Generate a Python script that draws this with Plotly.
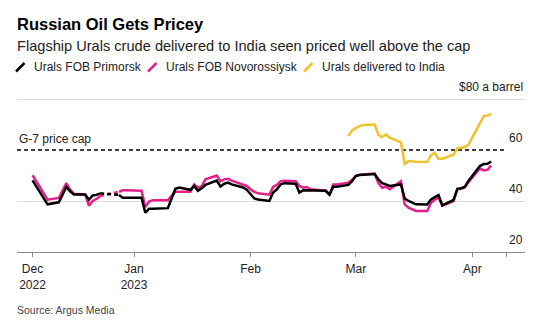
import plotly.graph_objects as go

# ---------------- data ----------------
urals_dates = [
    "2022-12-05", "2022-12-09", "2022-12-12", "2022-12-14", "2022-12-15", "2022-12-16",
    "2022-12-19", "2022-12-20", "2022-12-21", "2022-12-22", "2022-12-23",
    "2022-12-28", "2022-12-29", "2022-12-30",
    "2023-01-02", "2023-01-03", "2023-01-04", "2023-01-05", "2023-01-06",
    "2023-01-09", "2023-01-10", "2023-01-11", "2023-01-12", "2023-01-13",
    "2023-01-16", "2023-01-17", "2023-01-18", "2023-01-19", "2023-01-20",
    "2023-01-23", "2023-01-24", "2023-01-25", "2023-01-26", "2023-01-27",
    "2023-01-30", "2023-01-31", "2023-02-01", "2023-02-02", "2023-02-03",
    "2023-02-06", "2023-02-07", "2023-02-08", "2023-02-09", "2023-02-10",
    "2023-02-13", "2023-02-14", "2023-02-15", "2023-02-16", "2023-02-17",
    "2023-02-20", "2023-02-21", "2023-02-22", "2023-02-23", "2023-02-24",
    "2023-02-27", "2023-02-28", "2023-03-01", "2023-03-02", "2023-03-03",
    "2023-03-06", "2023-03-07", "2023-03-08", "2023-03-09", "2023-03-10",
    "2023-03-13", "2023-03-14", "2023-03-15", "2023-03-16", "2023-03-17",
    "2023-03-20", "2023-03-21", "2023-03-22", "2023-03-23", "2023-03-24",
    "2023-03-27", "2023-03-28", "2023-03-29", "2023-03-30", "2023-03-31",
    "2023-04-03", "2023-04-04", "2023-04-05", "2023-04-06",
]
primorsk = [
    48.1, 38.7, 39.5, 45.5, 43.8, 42.6,
    42.6, 40.5, 42.2, 42.4, 43.0,
    42.4, 41.3, 41.3,
    41.3, 41.3, 35.4, 37.0, 37.0,
    37.0, 37.2, 41.0, 44.8, 45.3,
    44.4, 45.9, 44.0, 45.0, 46.3,
    48.0, 45.7, 46.8, 47.2, 46.5,
    45.3, 44.4, 42.5, 41.0, 40.6,
    40.0, 43.3, 44.6, 46.5, 47.0,
    46.8, 43.3, 44.2, 44.2, 44.2,
    44.2, 44.0, 42.4, 45.6, 45.6,
    46.3, 47.8, 49.8, 50.2, 50.3,
    50.6, 48.5, 47.0, 46.5, 45.9,
    46.5, 41.0, 40.0, 39.3, 38.7,
    38.6, 40.6, 41.5, 42.3, 38.3,
    40.4, 44.8, 45.0, 45.5, 48.0,
    53.7, 54.5, 54.6, 55.5,
]
novorossiysk = [
    50.1, 40.5, 41.2, 47.0, 44.5, 42.8,
    42.6, 38.2, 40.0, 40.8, 42.0,
    43.6, 44.2, 44.2,
    44.2, 44.0, 37.6, 39.8, 40.3,
    40.3, 40.3, 42.0, 43.6, 43.6,
    43.6, 46.5, 45.2, 45.8, 48.5,
    50.0, 47.8, 48.5, 48.7, 48.0,
    46.6, 45.9, 44.6, 43.6, 43.0,
    42.5, 45.5, 46.3, 47.8, 47.9,
    47.8, 45.9, 45.2, 45.5, 44.6,
    44.3, 44.0, 42.6, 46.5, 46.5,
    47.2, 48.3, 49.9, 50.3, 50.4,
    50.8, 47.0, 45.2, 45.6, 44.6,
    47.8, 38.7, 37.4, 36.6, 36.1,
    36.1, 39.3, 40.5, 41.4, 38.2,
    40.0, 44.6, 44.8, 45.5, 47.5,
    52.8, 52.0, 52.2, 53.9,
]
india_dates = [
    "2023-02-27", "2023-02-28", "2023-03-01", "2023-03-02", "2023-03-03",
    "2023-03-06", "2023-03-07", "2023-03-08", "2023-03-09", "2023-03-10",
    "2023-03-13", "2023-03-14", "2023-03-15", "2023-03-16", "2023-03-17",
    "2023-03-20", "2023-03-21", "2023-03-22", "2023-03-23", "2023-03-24",
    "2023-03-27", "2023-03-28", "2023-03-29", "2023-03-30", "2023-03-31",
    "2023-04-03", "2023-04-04", "2023-04-05", "2023-04-06",
]
india = [
    65.5, 67.7, 68.6, 69.4, 69.8,
    70.0, 66.0, 65.1, 66.1, 64.8,
    63.0, 54.5, 55.7, 55.5, 55.4,
    55.3, 58.0, 58.9, 56.5, 56.6,
    58.2, 60.6, 60.8, 61.2, 62.2,
    70.5, 73.2, 73.6, 74.0,
]
gap_start, gap_end = "2022-12-23", "2022-12-28"   # holiday gap, drawn dashed
price_cap = 60
cap_end = "2023-04-10"
x_tickvals = ["2022-12-05", "2023-01-01", "2023-02-01", "2023-03-01", "2023-04-01", "2023-04-10"]
x_ticktext = ["Dec<br>2022", "Jan<br>2023", "Feb", "Mar", "Apr", ""]
y_labels = [20, 40, 60, 80]
y_label_text = ["20", "40", "60", "$80 a barrel"]
y_grid = [40, 80]
x_range = ["2022-11-30 21:00", "2023-04-15 00:00"]
y_range = [20, 85.5]

series = [
    ("Urals FOB Novorossiysk", novorossiysk, "#e5208a"),
    ("Urals FOB Primorsk", primorsk, "#000000"),
]
INDIA_COLOR = "#f2c12e"

# ---------------- layout geometry ----------------
W, H = 550, 325
L, R, T, B = 17, 25, 85, 73
PW, PH = W - L - R, H - T - B
FONT = "Liberation Sans, Arial, sans-serif"


def px(xp):
    return (xp - L) / PW


def py(yp):
    return (H - B - yp) / PH


fig = go.Figure()

gi0 = urals_dates.index(gap_start)
gi1 = urals_dates.index(gap_end)
for name, vals, col in series:
    xs = urals_dates[: gi0 + 1] + [None] + urals_dates[gi1:]
    ys = vals[: gi0 + 1] + [None] + vals[gi1:]
    fig.add_trace(go.Scatter(x=xs, y=ys, mode="lines", name=name, connectgaps=False,
                             line=dict(color=col, width=2.5), showlegend=False))
    fig.add_trace(go.Scatter(x=[urals_dates[gi0], urals_dates[gi1]], y=[vals[gi0], vals[gi1]],
                             mode="lines", line=dict(color=col, width=2.5, dash="4px,3px"),
                             showlegend=False))

fig.add_trace(go.Scatter(x=india_dates, y=india, mode="lines", name="Urals delivered to India",
                         line=dict(color=INDIA_COLOR, width=2.5), showlegend=False))

# G-7 cap dashed line
fig.add_shape(type="line", xref="x", yref="y", x0=x_range[0], x1=cap_end,
              y0=price_cap, y1=price_cap, line=dict(color="#000", width=1.3, dash="4px,3px"),
              layer="below")

ann = []
# y labels
for v, t in zip(y_labels, y_label_text):
    ann.append(dict(xref="paper", yref="y", x=1, y=v, text=t, showarrow=False,
                    xanchor="right", yanchor="bottom", yshift=3,
                    font=dict(size=12, color="#222", family=FONT)))
ann.append(dict(xref="paper", yref="y", x=0, y=price_cap, text="G-7 price cap", showarrow=False,
                xanchor="left", yanchor="bottom", yshift=2,
                font=dict(size=12, color="#222", family=FONT)))
# title / subtitle / source
ann.append(dict(xref="paper", yref="paper", x=px(15), y=py(24), text="<b>Russian Oil Gets Pricey</b>",
                showarrow=False, xanchor="left", yanchor="middle",
                font=dict(size=16.5, color="#000", family=FONT)))
ann.append(dict(xref="paper", yref="paper", x=px(15), y=py(46),
                text="Flagship Urals crude delivered to India seen priced well above the cap",
                showarrow=False, xanchor="left", yanchor="middle",
                font=dict(size=14.6, color="#222", family=FONT)))
ann.append(dict(xref="paper", yref="paper", x=px(15), y=py(310), text="Source: Argus Media",
                showarrow=False, xanchor="left", yanchor="middle",
                font=dict(size=10.5, color="#444", family=FONT)))
# legend: diagonal swatch + label
legend_items = [("Urals FOB Primorsk", "#000000", 16, 32),
                ("Urals FOB Novorossiysk", "#e5208a", 148, 164),
                ("Urals delivered to India", INDIA_COLOR, 304, 320)]
for name, col, xs_, xt_ in legend_items:
    fig.add_shape(type="line", xref="paper", yref="paper",
                  x0=px(xs_), y0=py(71.5), x1=px(xs_ + 8.5), y1=py(63),
                  line=dict(color=col, width=2.5))
    ann.append(dict(xref="paper", yref="paper", x=px(xt_), y=py(67),
                    text=name, showarrow=False, xanchor="left", yanchor="middle",
                    font=dict(size=12, color="#222", family=FONT)))

fig.update_layout(
    width=W, height=H, margin=dict(l=L, r=R, t=T, b=B),
    paper_bgcolor="white", plot_bgcolor="white",
    showlegend=False, annotations=ann,
    font=dict(family=FONT, size=12, color="#222"),
    xaxis=dict(type="date", range=x_range, tickvals=x_tickvals, ticktext=x_ticktext,
               showgrid=False, zeroline=False, showline=True, linecolor="#888", linewidth=1,
               ticks="outside", ticklen=4, tickcolor="#888", ticklabelstandoff=2,
               tickfont=dict(size=12, color="#222")),
    yaxis=dict(range=y_range, tickvals=y_grid, showticklabels=False, showgrid=True,
               gridcolor="#dcdcdc", gridwidth=1, zeroline=False, showline=False, ticks=""),
)

fig.write_html("out.html")
